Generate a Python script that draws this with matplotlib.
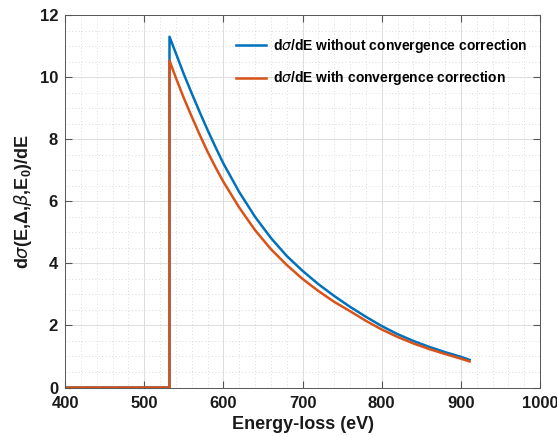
import numpy as np
import matplotlib
matplotlib.use("Agg")
import matplotlib.pyplot as plt
from matplotlib.ticker import MultipleLocator

# energy-loss (eV) and cross-section values
energyBefore = [400, 532]
zeroBefore = [0, 0]
energy = [532, 540, 550, 560, 570, 580, 590, 600, 620, 640, 660, 680, 700, 720,
          740, 760, 780, 800, 820, 840, 860, 880, 900, 911]
sigmaNoCorr = [11.30, 10.77, 10.10, 9.48, 8.88, 8.30, 7.75, 7.22, 6.30, 5.50, 4.82, 4.24,
               3.76, 3.33, 2.95, 2.60, 2.28, 1.98, 1.72, 1.50, 1.31, 1.14, 0.99, 0.89]
sigmaCorr = [10.53, 9.98, 9.33, 8.73, 8.15, 7.60, 7.10, 6.63, 5.80, 5.07, 4.46, 3.95,
             3.50, 3.11, 2.76, 2.46, 2.15, 1.87, 1.63, 1.42, 1.24, 1.08, 0.93, 0.84]

plt.rcParams["font.family"] = ["Liberation Sans", "DejaVu Sans"]
plt.rcParams["font.weight"] = "bold"
plt.rcParams["mathtext.fontset"] = "custom"
plt.rcParams["mathtext.rm"] = "Liberation Sans:bold"
plt.rcParams["mathtext.it"] = "DejaVu Sans:italic:weight=normal"
plt.rcParams["mathtext.bf"] = "Liberation Sans:bold"

fig = plt.figure(figsize=[5.57, 4.36], dpi=100)
ax = fig.add_axes([0.1167, 0.1112, 0.8528, 0.8544])

blue = "#0072BD"
orange = "#D95319"

ax.plot(energyBefore + energy, zeroBefore + sigmaNoCorr, color=blue, linewidth=1.8,
        label=r"d$\sigma$/dE without convergence correction")
ax.plot(energyBefore + energy, zeroBefore + sigmaCorr, color=orange, linewidth=1.8,
        label=r"d$\sigma$/dE with convergence correction")

ax.set_xlim(400, 1000)
ax.set_ylim(0, 12)
ax.xaxis.set_major_locator(MultipleLocator(100))
ax.xaxis.set_minor_locator(MultipleLocator(20))
ax.yaxis.set_major_locator(MultipleLocator(2))
ax.yaxis.set_minor_locator(MultipleLocator(0.5))

ax.grid(which="major", color="#dcdcdc", linewidth=0.7)
ax.grid(which="minor", color="#d0d0d0", linewidth=0.6, linestyle=(0, (1, 3)))
ax.set_axisbelow(True)

for s in ax.spines.values():
    s.set_color("#555555")
    s.set_linewidth(0.7)
ax.tick_params(which="both", direction="in", top=True, right=True, colors="#555555",
               labelcolor="#1a1a1a", labelsize=12)
ax.tick_params(which="minor", length=0)
ax.tick_params(which="major", length=5)
ax.tick_params(axis="x", pad=6)
ax.tick_params(axis="y", pad=5)

ax.set_xlabel("Energy-loss (eV)", fontsize=13, fontweight="bold", color="#1a1a1a")
ax.set_ylabel(r"d$\sigma$(E,$\Delta$,$\beta$,E$_0$)/dE", fontsize=13, fontweight="bold",
              color="#1a1a1a")

leg = ax.legend(loc="upper right", frameon=False, fontsize=10,
                handlelength=2.2, handletextpad=0.5, labelspacing=1.05,
                bbox_to_anchor=(1.0, 0.975))
for t in leg.get_texts():
    t.set_fontweight("bold")

fig.savefig("out.png", dpi=100)
